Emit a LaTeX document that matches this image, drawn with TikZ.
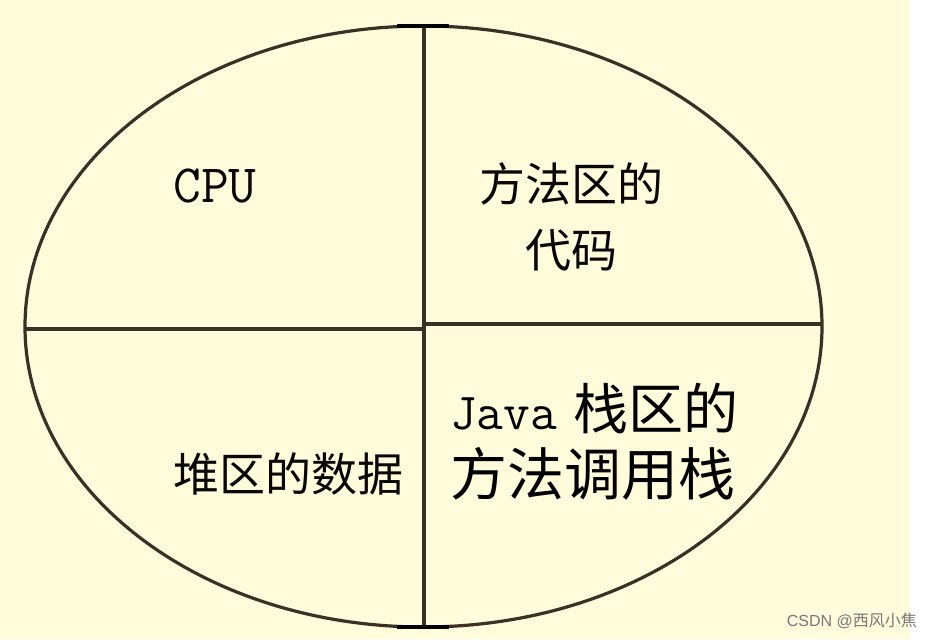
\documentclass[tikz,border=0pt]{standalone}
\usepackage{fontspec}
\newfontfamily\cjk{Noto Sans CJK SC}
\newfontfamily\wm{Liberation Sans}
\usetikzlibrary{shapes.geometric}
\definecolor{bgyellow}{RGB}{255,251,219}
\definecolor{ink}{RGB}{58,48,38}
\definecolor{wmgray}{RGB}{120,120,120}
\begin{document}
\begin{tikzpicture}[x=1pt,y=-1pt,
  edge/.style={draw=ink,line width=3.2pt},
  tick/.style={draw=black,line width=4pt},
  lbl/.style={inner sep=0pt,text=black!85!ink,font=\cjk\fontsize{46}{56}\selectfont,align=center},
  lat/.style={inner sep=0pt,text=black!85!ink,font=\ttfamily\fontsize{54}{60}\selectfont}]
\useasboundingbox (0,0) rectangle (933,639);
\fill[white] (0,0) rectangle (933,639);
\fill[bgyellow] (0,0) rectangle (910,639);
% outline
\node[ellipse,draw=ink,line width=3.2pt,minimum width=797pt,minimum height=601pt,inner sep=0pt] (oval) at (423.5,326.5) {};
\coordinate (top) at (424,26);
\coordinate (bot) at (424,627);
\coordinate (lft) at (25,329);
\coordinate (mid) at (424,327);
\coordinate (ctr) at (424,324);
\coordinate (rgt) at (822,324);
\draw[edge] (top) -- (bot);
\draw[edge] (lft) -- (lft -| mid);
\draw[edge] (ctr) -- (rgt);
\coordinate (t1) at (397,26); \coordinate (t2) at (449,26);
\coordinate (b1) at (397,627); \coordinate (b2) at (449,627);
\draw[tick] (t1) -- (t2);
\draw[tick] (b1) -- (b2);
% labels
\node[lat] (cpu) at (215,186) {CPU};
\node[lbl] (ffq) at (571,184) {方法区的};
\node[lbl] (dm) at (571,250) {代码};
\node[lbl] (dq) at (288,474) {堆区的数据};
\node[inner sep=0pt,anchor=west] (jv) at (450,408) {{\ttfamily\fontsize{52}{60}\selectfont Java}\hspace{16pt}{\cjk\fontsize{55}{60}\selectfont 栈区的}};
\node[inner sep=0pt,anchor=west,font=\cjk\fontsize{57}{60}\selectfont] (ff) at (450,474) {方法调用栈};
\node[inner sep=0pt,anchor=east,text=wmgray,font=\fontsize{16}{18}\selectfont] (wmk) at (917,621) {\wm CSDN @\cjk 西风小焦};
\end{tikzpicture}
\end{document}
